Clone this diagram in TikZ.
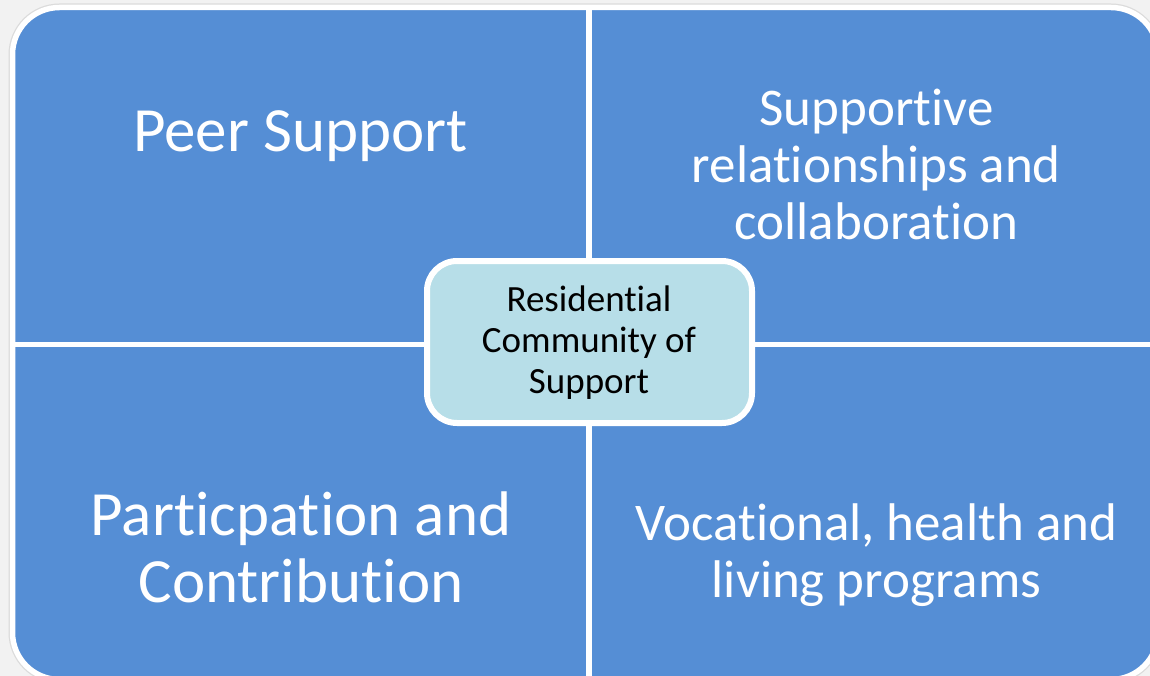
\documentclass[tikz,border=0pt]{standalone}
\usepackage{fontspec}
\setmainfont{Carlito}[Ligatures=NoCommon]
\definecolor{pagegray}{HTML}{F2F2F2}
\definecolor{quadblue}{HTML}{558ED5}
\definecolor{hubfill}{HTML}{B7DEE8}
\begin{document}
\begin{tikzpicture}[x=1pt,y=-1pt,
  quad/.style={fill=quadblue},
  sep/.style={draw=white, line width=5.5pt},
  halo/.style={draw=black!14, line width=8pt},
  % multi-line labels are anchored at the baseline of their last line
  bigtext/.style={text=white, align=center, inner sep=0pt, anchor=base,
    font=\fontsize{63}{67}\selectfont},
  midtext/.style={text=white, align=center, inner sep=0pt, anchor=base,
    font=\fontsize{53}{57}\selectfont},
  hub/.style={fill=hubfill, draw=white, line width=6pt, rounded corners=30pt,
    minimum width=325pt, minimum height=162pt, inner sep=0pt},
  hubtext/.style={text=black, align=center, inner sep=0pt, anchor=base,
    font=\fontsize{37}{41}\selectfont}]

% page
\fill[pagegray] (0,0) rectangle (1150,676);
\useasboundingbox (0,0) rectangle (1150,676);

% the four quadrants share one rounded outline
\draw[halo, rounded corners=47pt] (12.5,7.5) rectangle (1158,679.5);
\begin{scope}
  \clip[rounded corners=47pt] (12.5,7.5) rectangle (1158,679.5);
  \fill[quad] (12.5,7.5)  rectangle (589,344.5);
  \fill[quad] (589,7.5)   rectangle (1158,344.5);
  \fill[quad] (12.5,344.5) rectangle (589,679.5);
  \fill[quad] (589,344.5) rectangle (1158,679.5);
\end{scope}
\draw[sep, rounded corners=47pt] (12.5,7.5) rectangle (1158,679.5);
\draw[sep] (589,7.5) -- (589,679.5);
\draw[sep] (12.5,344.5) -- (1158,344.5);

% quadrant labels
\node[bigtext] (peer) at (300.5,152) {Peer Support};
\node[midtext] (rel) at (876.5,240) {Supportive\\relationships and\\collaboration};
\node[bigtext] (part) at (301,602) {Particpation and\\Contribution};
\node[midtext] (voc) at (876.5,597) {Vocational, health and\\living programs};

% central box
\node[hub] (hubbox) at (589.5,342) {};
\node[hubtext] (hublabel) at (589,393) {Residential\\Community of\\Support};
\end{tikzpicture}
\end{document}
